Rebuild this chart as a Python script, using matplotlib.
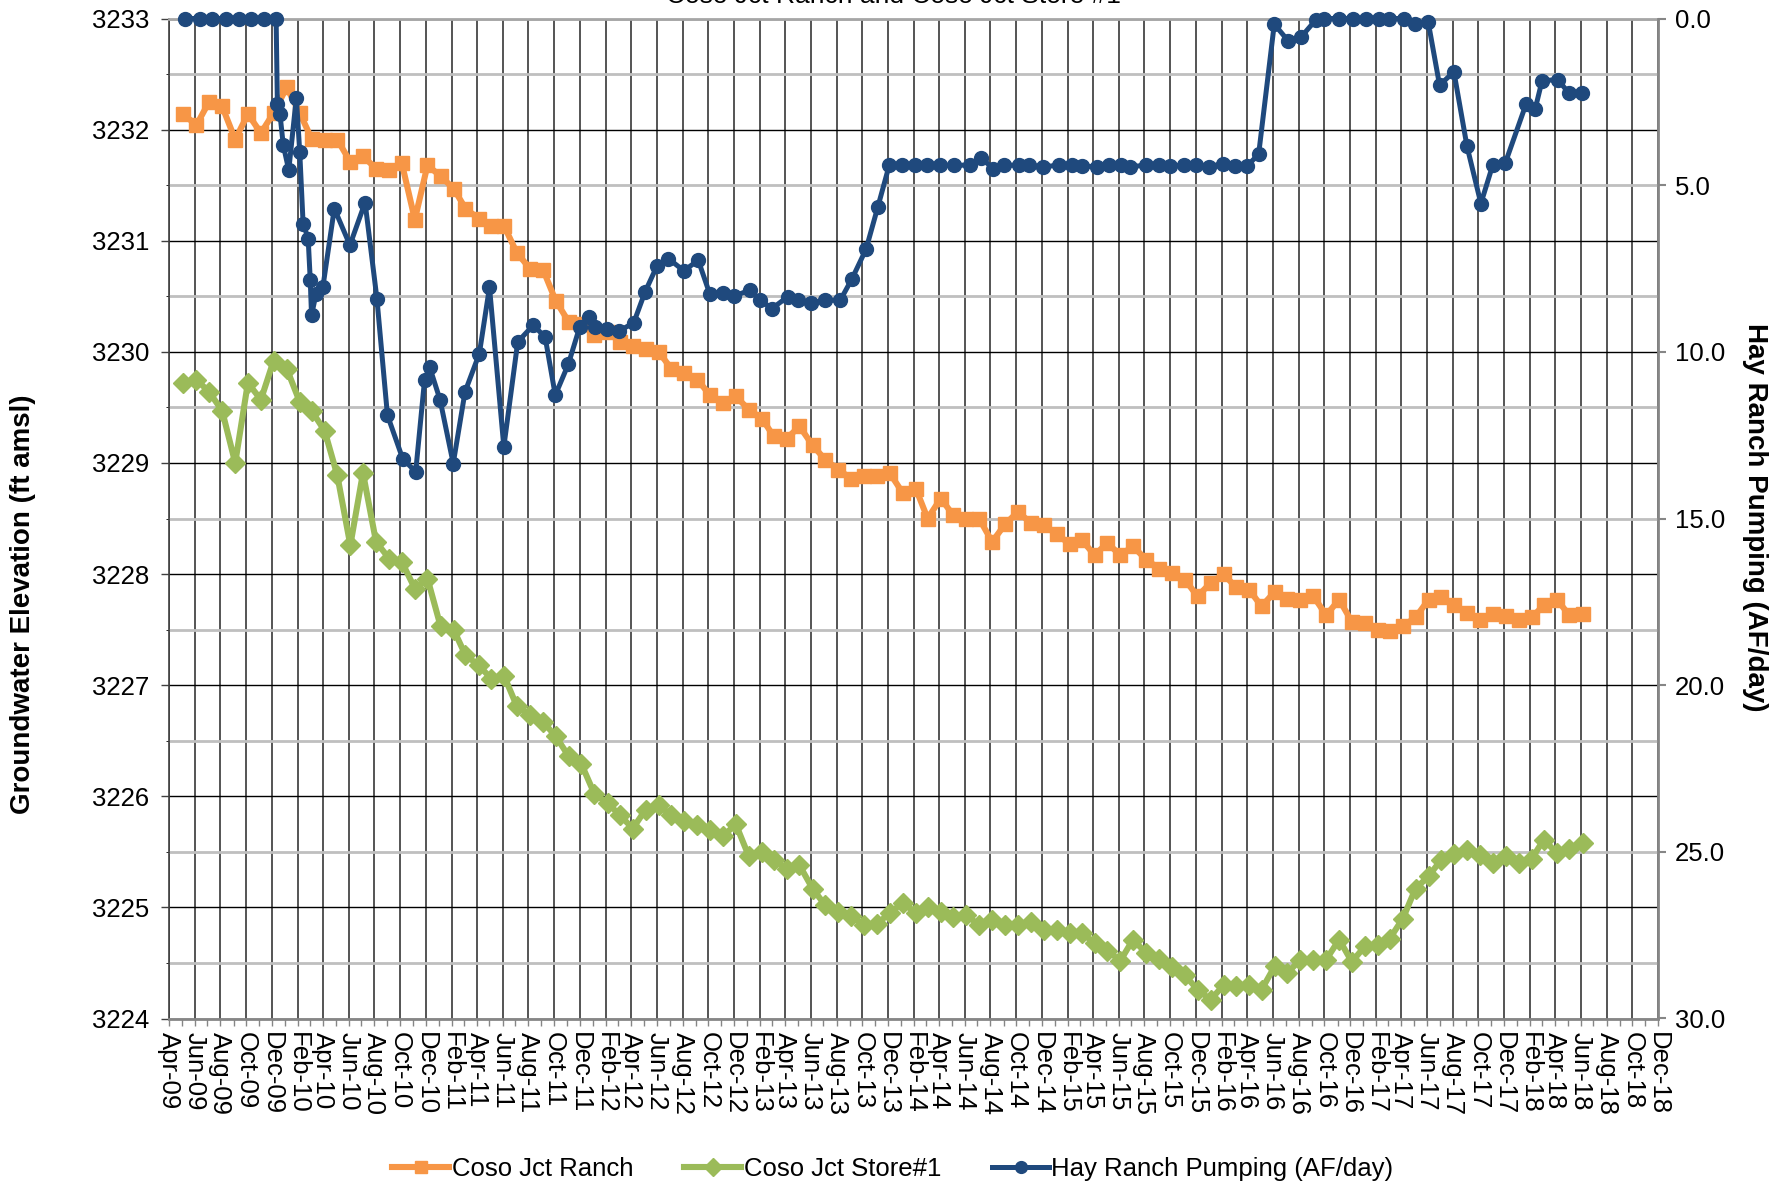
import matplotlib
matplotlib.use('Agg')
import matplotlib.pyplot as plt
import matplotlib.dates as mdates
from matplotlib.ticker import MultipleLocator
import pandas as pd

plt.rcParams['font.family'] = ['Liberation Sans', 'DejaVu Sans']

title = "Coso Jct Ranch and Coso Jct Store #1"
left_label = "Groundwater Elevation (ft amsl)"
right_label = "Hay Ranch Pumping (AF/day)"
series_names = ["Coso Jct Ranch", "Coso Jct Store#1", "Hay Ranch Pumping (AF/day)"]

# monthly water-level measurements, May-09 .. Jun-18
well_first_month = "2009-05-01"
well_count = 110

ranch = [3232.14, 3232.04, 3232.25, 3232.21, 3231.91, 3232.14, 3231.97, 3232.15, 3232.38, 3232.15,
         3231.92, 3231.91, 3231.91, 3231.71, 3231.76, 3231.65, 3231.64, 3231.70, 3231.19, 3231.68,
         3231.58, 3231.47, 3231.29, 3231.20, 3231.13, 3231.13, 3230.89, 3230.75, 3230.74, 3230.46,
         3230.27, 3230.25, 3230.15, 3230.18, 3230.09, 3230.05, 3230.03, 3230.00, 3229.85, 3229.81,
         3229.75, 3229.61, 3229.54, 3229.60, 3229.48, 3229.40, 3229.24, 3229.22, 3229.33, 3229.16,
         3229.03, 3228.94, 3228.86, 3228.88, 3228.88, 3228.91, 3228.73, 3228.77, 3228.50, 3228.68,
         3228.53, 3228.50, 3228.50, 3228.29, 3228.45, 3228.56, 3228.46, 3228.44, 3228.36, 3228.27,
         3228.31, 3228.17, 3228.28, 3228.17, 3228.25, 3228.13, 3228.05, 3228.01, 3227.95, 3227.80,
         3227.92, 3228.00, 3227.88, 3227.86, 3227.71, 3227.84, 3227.78, 3227.77, 3227.80, 3227.63,
         3227.77, 3227.57, 3227.56, 3227.50, 3227.49, 3227.53, 3227.61, 3227.77, 3227.79, 3227.72,
         3227.65, 3227.59, 3227.64, 3227.62, 3227.59, 3227.61, 3227.72, 3227.77, 3227.63, 3227.64]

store = [3229.72, 3229.75, 3229.64, 3229.47, 3229.00, 3229.72, 3229.57, 3229.92, 3229.85, 3229.55,
         3229.47, 3229.29, 3228.89, 3228.26, 3228.91, 3228.29, 3228.14, 3228.11, 3227.87, 3227.96,
         3227.53, 3227.50, 3227.27, 3227.18, 3227.06, 3227.08, 3226.81, 3226.73, 3226.67, 3226.54,
         3226.36, 3226.29, 3226.02, 3225.94, 3225.83, 3225.71, 3225.88, 3225.92, 3225.83, 3225.78,
         3225.74, 3225.70, 3225.64, 3225.75, 3225.46, 3225.50, 3225.43, 3225.35, 3225.38, 3225.17,
         3225.02, 3224.96, 3224.92, 3224.84, 3224.85, 3224.95, 3225.04, 3224.95, 3225.00, 3224.96,
         3224.91, 3224.93, 3224.84, 3224.89, 3224.84, 3224.84, 3224.87, 3224.80, 3224.80, 3224.77,
         3224.77, 3224.68, 3224.61, 3224.52, 3224.71, 3224.59, 3224.54, 3224.46, 3224.39, 3224.26,
         3224.17, 3224.30, 3224.29, 3224.30, 3224.26, 3224.47, 3224.41, 3224.53, 3224.53, 3224.53,
         3224.71, 3224.51, 3224.65, 3224.66, 3224.72, 3224.90, 3225.17, 3225.28, 3225.43, 3225.48,
         3225.52, 3225.47, 3225.40, 3225.46, 3225.40, 3225.44, 3225.61, 3225.49, 3225.53, 3225.58]

pump_dates = ["2009-05-10", "2009-06-13", "2009-07-13", "2009-08-13", "2009-09-13", "2009-10-13",
              "2009-11-13", "2009-12-11", "2009-12-14", "2009-12-20", "2009-12-28", "2010-01-10",
              "2010-01-28", "2010-02-05", "2010-02-13", "2010-02-25", "2010-03-02", "2010-03-05",
              "2010-03-16", "2010-04-01", "2010-04-28", "2010-06-04", "2010-07-10", "2010-08-07",
              "2010-09-01", "2010-10-07", "2010-11-07", "2010-11-28", "2010-12-10", "2011-01-04",
              "2011-02-04", "2011-03-04", "2011-04-07", "2011-05-01", "2011-06-04", "2011-07-07",
              "2011-08-13", "2011-09-10", "2011-10-04", "2011-11-04", "2011-12-01", "2011-12-22",
              "2012-01-07", "2012-02-04", "2012-03-04", "2012-04-07", "2012-05-04", "2012-06-01",
              "2012-06-28", "2012-08-04", "2012-09-07", "2012-10-04", "2012-11-04", "2012-12-01",
              "2013-01-07", "2013-02-01", "2013-03-01", "2013-04-07", "2013-05-01", "2013-06-01",
              "2013-07-04", "2013-08-10", "2013-09-07", "2013-10-10", "2013-11-07", "2013-12-04",
              "2014-01-04", "2014-02-04", "2014-03-04", "2014-04-04", "2014-05-07", "2014-06-13",
              "2014-07-10", "2014-08-07", "2014-09-01", "2014-10-07", "2014-11-01", "2014-12-04",
              "2015-01-10", "2015-02-10", "2015-03-07", "2015-04-10", "2015-05-10", "2015-06-07",
              "2015-06-28", "2015-08-04", "2015-09-04", "2015-10-01", "2015-11-04", "2015-12-01",
              "2016-01-01", "2016-02-04", "2016-03-04", "2016-04-01", "2016-04-28", "2016-06-04",
              "2016-07-07", "2016-08-07", "2016-09-10", "2016-10-01", "2016-11-04", "2016-12-07",
              "2017-01-07", "2017-02-07", "2017-03-04", "2017-04-07", "2017-05-04", "2017-06-04",
              "2017-07-01", "2017-08-04", "2017-09-04", "2017-10-07", "2017-11-04", "2017-12-04",
              "2018-01-22", "2018-02-13", "2018-03-01", "2018-04-07", "2018-05-04", "2018-06-04"]

pumping = [0.0, 0.0, 0.0, 0.0, 0.0, 0.0, 0.0, 0.0, 2.55, 2.85, 3.8, 4.55,
           2.37, 4.0, 6.15, 6.6, 7.85, 8.9, 8.25, 8.05, 5.7, 6.8, 5.52, 8.4,
           11.9, 13.2, 13.6, 10.85, 10.45, 11.45, 13.35, 11.2, 10.05, 8.06, 12.85, 9.7,
           9.2, 9.56, 11.3, 10.37, 9.25, 8.95, 9.25, 9.3, 9.37, 9.13, 8.2, 7.43,
           7.2, 7.57, 7.25, 8.25, 8.23, 8.33, 8.15, 8.45, 8.7, 8.35, 8.45, 8.53,
           8.45, 8.45, 7.8, 6.92, 5.65, 4.4, 4.4, 4.4, 4.4, 4.4, 4.4, 4.4,
           4.17, 4.51, 4.4, 4.4, 4.4, 4.45, 4.4, 4.4, 4.42, 4.45, 4.4, 4.4,
           4.45, 4.4, 4.4, 4.42, 4.4, 4.4, 4.45, 4.35, 4.42, 4.42, 4.07, 0.17,
           0.67, 0.55, 0.05, 0.0, 0.0, 0.0, 0.0, 0.0, 0.0, 0.0, 0.17, 0.1,
           2.0, 1.6, 3.83, 5.55, 4.4, 4.33, 2.57, 2.7, 1.87, 1.83, 2.24, 2.24]

x_start, x_end = "2009-04-01", "2018-12-01"
left_lim = (3224, 3233)
right_lim = (30, 0)

ORANGE = "#F79646"
GREEN = "#9BBB59"
BLUE = "#1F497D"

well_dates = pd.date_range(well_first_month, periods=well_count, freq="MS") + pd.Timedelta(days=4)
pdates = pd.to_datetime(pump_dates)

W, H = 1787, 1188
fig = plt.figure(figsize=(W / 100, H / 100), dpi=100)
L, R, T, B = 169, 1658, 18.5, 1018.5
ax = fig.add_axes([L / W, 1 - B / H, (R - L) / W, (B - T) / H])
ax2 = ax.twinx()

ax.plot(well_dates, ranch, color=ORANGE, lw=4.4, marker="s", ms=10, mec=ORANGE, mfc=ORANGE,
        label=series_names[0], zorder=3)
ax.plot(well_dates, store, color=GREEN, lw=4.4, marker="D", ms=10.5, mec=GREEN, mfc=GREEN,
        label=series_names[1], zorder=3)
ax2.plot(pdates, pumping, color=BLUE, lw=3.6, marker="o", ms=10, mec=BLUE, mfc=BLUE,
         label=series_names[2], zorder=3, clip_on=False)

ax.set_xlim(pd.Timestamp(x_start), pd.Timestamp(x_end))
ax.set_ylim(*left_lim)
ax2.set_ylim(*right_lim)

ax.xaxis.set_major_locator(mdates.MonthLocator(bymonth=[2, 4, 6, 8, 10, 12]))
ax.xaxis.set_minor_locator(mdates.MonthLocator())
ax.xaxis.set_major_formatter(mdates.DateFormatter("%b-%y"))
ax.yaxis.set_major_locator(MultipleLocator(1))
ax.yaxis.set_minor_locator(MultipleLocator(0.5))
ax2.yaxis.set_major_locator(MultipleLocator(5))
ax2.yaxis.set_major_formatter(matplotlib.ticker.FormatStrFormatter("%.1f"))

ax.set_axisbelow(True)
ax.grid(axis="y", which="major", color="#000000", lw=1.0)
ax.grid(axis="y", which="minor", color="#BFBFBF", lw=2.0)
ax.grid(axis="x", which="major", color="#262626", lw=1.1)

for s in ["top", "bottom", "left", "right"]:
    ax.spines[s].set_visible(False)
    ax2.spines[s].set_visible(False)
ax.spines["top"].set_visible(True)
ax.spines["top"].set_color("#A6A6A6")
ax.spines["top"].set_linewidth(2)
ax.spines["bottom"].set_visible(True)
ax.spines["bottom"].set_color("#868686")
ax.spines["bottom"].set_linewidth(2)
ax.spines["left"].set_visible(True)
ax.spines["left"].set_color("#404040")
ax.spines["left"].set_linewidth(1.2)
ax2.spines["right"].set_visible(True)
ax2.spines["right"].set_color("#868686")
ax2.spines["right"].set_linewidth(2)

fs = 18.5
ax.tick_params(axis="y", which="major", direction="out", length=6, width=1, color="#404040",
               labelsize=fs, pad=8)
ax.tick_params(axis="x", which="major", direction="out", length=5, width=1, color="#868686",
               labelsize=fs, pad=5)
ax.tick_params(axis="x", which="minor", direction="out", length=5, width=1, color="#868686")
ax2.tick_params(axis="y", which="major", direction="out", length=6, width=1.5, color="#868686",
                labelsize=fs, pad=6)
for lab in ax.get_xticklabels():
    lab.set_rotation(-90)
    lab.set_ha("center")
    lab.set_va("top")

fig.text(23 / W, 1 - 604 / H, left_label, rotation=90, ha="center", va="center",
         fontsize=20, fontweight="bold")
fig.text(1755 / W, 1 - 517 / H, right_label, rotation=-90, ha="center", va="center",
         fontsize=20, fontweight="bold")
fig.text(0.5, 1 - 3 / H, title, ha="center", va="baseline", fontsize=19)

h1, l1 = ax.get_legend_handles_labels()
h2, l2 = ax2.get_legend_handles_labels()
fig.legend(h1 + h2, l1 + l2, loc="center", bbox_to_anchor=(893 / W, 1 - 1169 / H), ncol=3,
           frameon=False, fontsize=18.5, handlelength=2.2, columnspacing=2.0, handletextpad=0.1,
           markerscale=0.85)

fig.savefig("out.png", dpi=100)
